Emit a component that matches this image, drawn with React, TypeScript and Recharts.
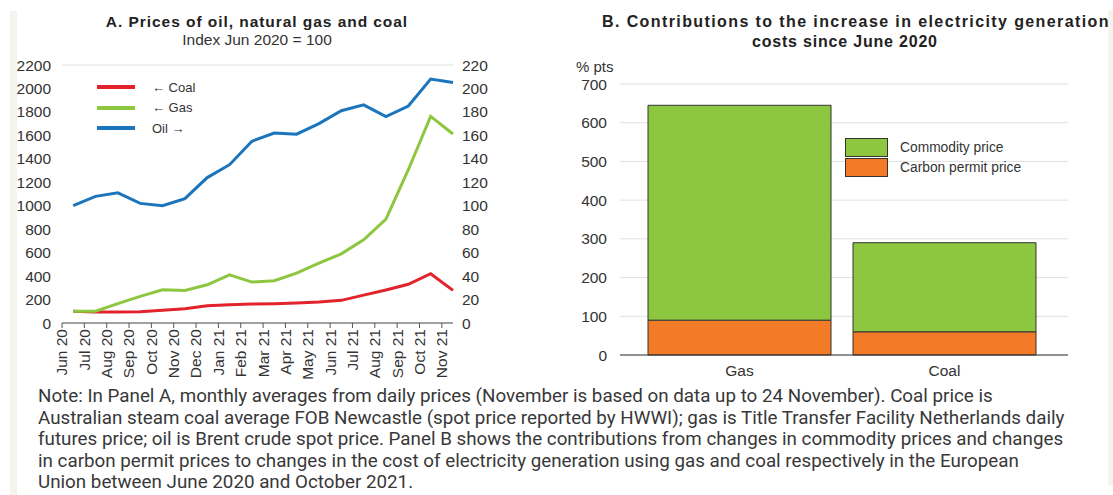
import React from 'react';
import {
  LineChart,
  Line,
  BarChart,
  Bar,
  XAxis,
  YAxis,
  CartesianGrid,
} from 'recharts';

const months = [
  'Jun 20', 'Jul 20', 'Aug 20', 'Sep 20', 'Oct 20', 'Nov 20', 'Dec 20', 'Jan 21', 'Feb 21',
  'Mar 21', 'Apr 21', 'May 21', 'Jun 21', 'Jul 21', 'Aug 21', 'Sep 21', 'Oct 21', 'Nov 21',
];
const coal = [100, 94, 94, 96, 108, 122, 148, 156, 162, 165, 170, 179, 193, 238, 282, 330, 420, 278];
const gas = [100, 100, 165, 227, 284, 278, 326, 411, 349, 360, 425, 510, 590, 709, 885, 1307, 1762, 1612];
const oil = [100, 108, 111, 102, 100, 106, 124, 135, 155, 162, 161, 170, 181, 186, 176, 185, 208, 205];

const leftTicks = [0, 200, 400, 600, 800, 1000, 1200, 1400, 1600, 1800, 2000, 2200];
const rightTicks = [0, 20, 40, 60, 80, 100, 120, 140, 160, 180, 200, 220];

const fuels = ['Gas', 'Coal'];
const carbonPermit = [90, 60];
const commodity = [555, 230];
const barTicks = [0, 100, 200, 300, 400, 500, 600, 700];

const RED = '#e3232b';
const GREEN = '#8dc63f';
const BLUE = '#1b75bc';
const ORANGE = '#f37a27';
const TEXT = '#333';
const FONT = '"Liberation Sans", Arial, sans-serif';

const lineData = months.map((m, i) => ({ x: i + 0.5, month: m, coal: coal[i], gas: gas[i], oil: oil[i] }));
const barData = fuels.map((f, i) => ({ name: f, carbon: carbonPermit[i], commodity: commodity[i] }));

const MonthTick = (props: any) => {
  const { x, y, payload } = props;
  return (
    <g transform={`translate(${x},${y})`}>
      <text x={-1} y={0} dy="0.35em" transform="rotate(-90)" textAnchor="end" fill={TEXT} fontSize={15.5} fontFamily={FONT}>
        {months[payload.value]}
      </text>
    </g>
  );
};

const lineLegend = [
  { c: RED, t: '\u2190 Coal' },
  { c: GREEN, t: '\u2190 Gas' },
  { c: BLUE, t: 'Oil \u2192' },
];

const barLegend = [
  { c: GREEN, t: 'Commodity price' },
  { c: ORANGE, t: 'Carbon permit price' },
];

const noteLines = [
  'Note: In Panel A, monthly averages from daily prices (November is based on data up to 24 November). Coal price is',
  'Australian steam coal average FOB Newcastle (spot price reported by HWWI); gas is Title Transfer Facility Netherlands daily',
  'futures price; oil is Brent crude spot price. Panel B shows the contributions from changes in commodity prices and changes',
  'in carbon permit prices to changes in the cost of electricity generation using gas and coal respectively in the European',
  'Union between June 2020 and October 2021.',
];

export default function App() {
  return (
    <div style={{ position: 'absolute', left: 0, top: 0, width: 1113, height: 495, background: '#fff', overflow: 'hidden' }}>
      <div style={{ position: 'absolute', left: 10, top: 11, width: 7, height: 484, background: '#f6f2ee' }} />
      <div style={{ position: 'absolute', left: 1108, top: 10, width: 5, height: 475, background: '#f6f2ee' }} />

      <div style={{ position: 'absolute', left: 57, width: 400, top: 12, textAlign: 'center', fontFamily: FONT, color: '#222' }}>
        <div style={{ fontSize: 15.5, fontWeight: 'bold', lineHeight: '19px', letterSpacing: 0.95, whiteSpace: 'nowrap' }}>
          A. Prices of oil, natural gas and coal
        </div>
        <div style={{ fontSize: 15.5, lineHeight: '18px', color: TEXT, whiteSpace: 'nowrap' }}>Index Jun 2020 = 100</div>
      </div>

      <div style={{ position: 'absolute', left: 0, top: 0 }}>
        <LineChart width={520} height={380} data={lineData} margin={{ top: 65, right: 0, bottom: 0, left: 0 }}>
          <CartesianGrid vertical={false} stroke="#e0e0e0" />
          <XAxis
            dataKey="x"
            type="number"
            domain={[0, 17.5]}
            ticks={months.map((_, i) => i)}
            interval={0}
            tick={<MonthTick />}
            tickSize={5}
            tickMargin={0}
            stroke="#555"
            tickLine={{ stroke: '#555' }}
            height={57}
          />
          <YAxis
            yAxisId="left"
            orientation="left"
            domain={[0, 2200]}
            ticks={leftTicks}
            interval={0}
            width={62}
            axisLine={false}
            tickLine={false}
            tickSize={0}
            tickMargin={11}
            tick={{ fill: TEXT, fontSize: 15.5, fontFamily: FONT }}
          />
          <YAxis
            yAxisId="right"
            orientation="right"
            domain={[0, 220]}
            ticks={rightTicks}
            interval={0}
            width={67}
            axisLine={false}
            tickLine={false}
            tickSize={0}
            tickMargin={9}
            tick={{ fill: TEXT, fontSize: 15.5, fontFamily: FONT, textAnchor: 'start' }}
          />
          <Line yAxisId="left" dataKey="coal" stroke={RED} strokeWidth={3} dot={false} isAnimationActive={false} />
          <Line yAxisId="left" dataKey="gas" stroke={GREEN} strokeWidth={3} dot={false} isAnimationActive={false} />
          <Line yAxisId="right" dataKey="oil" stroke={BLUE} strokeWidth={3} dot={false} isAnimationActive={false} />
        </LineChart>
      </div>

      <div style={{ position: 'absolute', left: 97, top: 77, fontFamily: FONT, fontSize: 13, color: TEXT }}>
        {lineLegend.map((r) => (
          <div key={r.t} style={{ display: 'flex', alignItems: 'center', height: 20.5 }}>
            <div style={{ width: 38, height: 4, background: r.c }} />
            <span style={{ marginLeft: 17, whiteSpace: 'nowrap' }}>{r.t}</span>
          </div>
        ))}
      </div>

      <div style={{ position: 'absolute', left: 560, width: 580, top: 12, fontFamily: FONT, color: '#222', fontSize: 16, fontWeight: 'bold', lineHeight: '20px' }}>
        <div style={{ position: 'absolute', left: 42, whiteSpace: 'nowrap', letterSpacing: 1.4 }}>
          B. Contributions to the increase in electricity generation
        </div>
        <div style={{ position: 'absolute', left: 192, top: 20, whiteSpace: 'nowrap', letterSpacing: 0.8 }}>costs since June 2020</div>
      </div>
      <div style={{ position: 'absolute', left: 576, top: 58, fontFamily: FONT, fontSize: 15, color: TEXT }}>% pts</div>

      <div style={{ position: 'absolute', left: 560, top: 0 }}>
        <BarChart width={553} height={380} data={barData} margin={{ top: 84, right: 45, bottom: 0, left: 0 }} barSize={183}>
          <CartesianGrid vertical={false} stroke="#e0e0e0" />
          <XAxis
            dataKey="name"
            padding={{ left: 17, right: 21 }}
            stroke="#333"
            tickLine={false}
            tickMargin={4}
            height={25}
            tick={{ fill: TEXT, fontSize: 15.5, fontFamily: FONT }}
          />
          <YAxis
            domain={[0, 700]}
            ticks={barTicks}
            interval={0}
            width={60}
            axisLine={false}
            tickLine={false}
            tickSize={0}
            tickMargin={13}
            tick={{ fill: TEXT, fontSize: 15.5, fontFamily: FONT }}
          />
          <Bar dataKey="carbon" stackId="a" fill={ORANGE} stroke="#333" strokeWidth={1} isAnimationActive={false} />
          <Bar dataKey="commodity" stackId="a" fill={GREEN} stroke="#333" strokeWidth={1} isAnimationActive={false} />
        </BarChart>
      </div>

      <div style={{ position: 'absolute', left: 845, top: 137, fontFamily: FONT, fontSize: 13.8, color: TEXT }}>
        {barLegend.map((r) => (
          <div key={r.t} style={{ display: 'flex', alignItems: 'center', height: 20 }}>
            <div style={{ width: 43, height: 19, background: r.c, border: '1px solid #333', boxSizing: 'border-box' }} />
            <span style={{ marginLeft: 12, whiteSpace: 'nowrap' }}>{r.t}</span>
          </div>
        ))}
      </div>

      <div style={{ position: 'absolute', left: 38, top: 386, fontFamily: 'Roboto, sans-serif', fontSize: 18.8, lineHeight: '21.6px', color: '#383838' }}>
        {noteLines.map((l) => (
          <div key={l} style={{ whiteSpace: 'nowrap' }}>{l}</div>
        ))}
      </div>
    </div>
  );
}
